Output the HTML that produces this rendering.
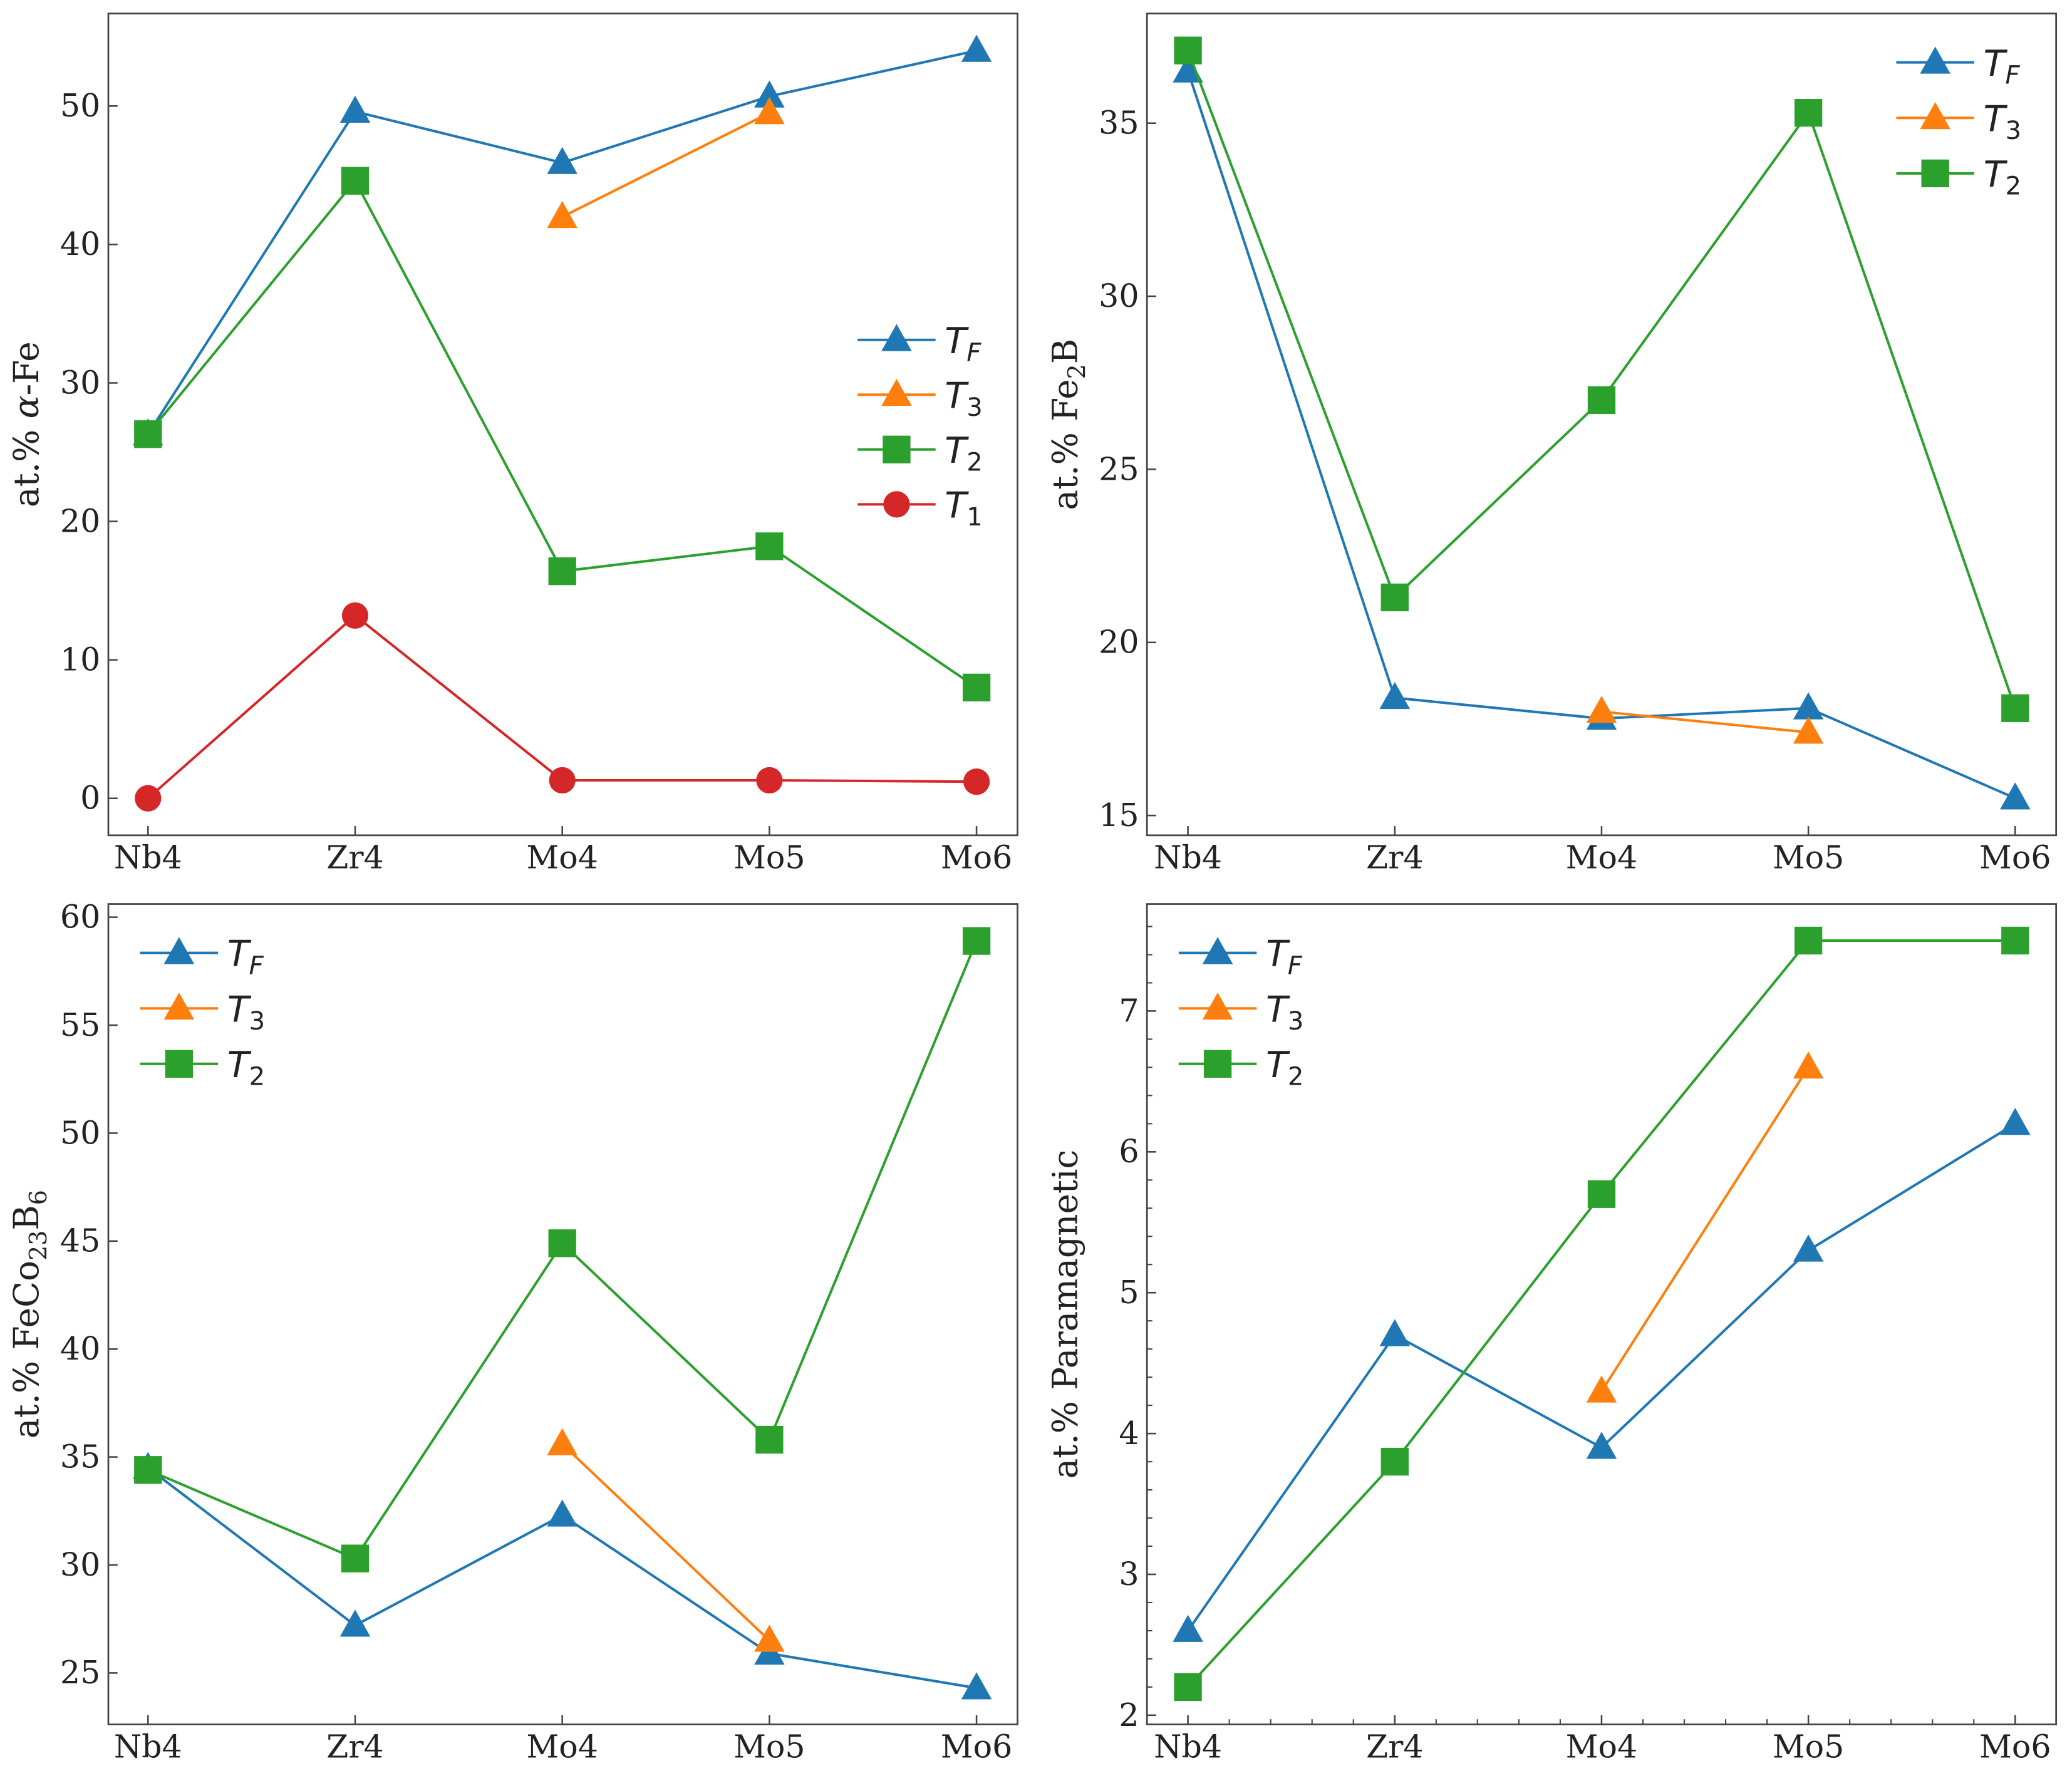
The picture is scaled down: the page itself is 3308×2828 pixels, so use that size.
<!DOCTYPE html>
<html><head><meta charset="utf-8">
<style>
html,body{margin:0;padding:0;background:#fff;}
svg{display:block;}
text{font-family:"DejaVu Serif","Liberation Serif",serif;fill:#222;}
.it{font-family:"DejaVu Sans","Liberation Sans",sans-serif;font-style:italic;}
</style></head>
<body>
<svg id="fig" width="3308" height="2828" viewBox="0 0 1568 1340" xmlns="http://www.w3.org/2000/svg"></svg>
<script>
const categories = ["Nb4","Zr4","Mo4","Mo5","Mo6"];
// Panel A: alpha-Fe
const aTF = [26.3,49.6,45.9,50.7,54.0];
const aT3 = [null,null,42.0,49.5,null];
const aT2 = [26.3,44.6,16.4,18.2,8.0];
const aT1 = [0,13.2,1.3,1.3,1.2];
const aTicks = [0,10,20,30,40,50];
// Panel B: Fe2B
const bTF = [36.5,18.4,17.8,18.1,15.5];
const bT3 = [null,null,18.0,17.4,null];
const bT2 = [37.1,21.3,27.0,35.3,18.1];
const bTicks = [15,20,25,30,35];
// Panel C: FeCo23B6
const cTF = [34.5,27.2,32.3,25.9,24.3];
const cT3 = [null,null,35.6,26.5,null];
const cT2 = [34.4,30.3,44.9,35.8,58.9];
const cTicks = [25,30,35,40,45,50,55,60];
// Panel D: Paramagnetic
const dTF = [2.6,4.7,3.9,5.3,6.2];
const dT3 = [null,null,4.3,6.6,null];
const dT2 = [2.2,3.8,5.7,7.5,7.5];
const dTicks = [2,3,4,5,6,7];

const NS="http://www.w3.org/2000/svg";
const svg=document.getElementById('fig');
const C={TF:"#1f77b4",T3:"#ff7f0e",T2:"#2ca02c",T1:"#d62728"};
function el(tag,attrs,parent){const e=document.createElementNS(NS,tag);for(const k in attrs)e.setAttribute(k,attrs[k]);(parent||svg).appendChild(e);return e;}
function marker(g,shape,x,y,color){
  let m;
  if(shape==='tri'){m=el('polygon',{points:`${x},${y-12} ${x-11.5},${y+8.5} ${x+11.5},${y+8.5}`,fill:color},g);}
  else if(shape==='sq'){m=el('rect',{x:x-10.5,y:y-10.5,width:21,height:21,fill:color},g);}
  else {m=el('circle',{cx:x,cy:y,r:10,fill:color},g);}
  return m;
}
function panel(name,L,R,T,B,x0px,x4px,v0,p0,v1,p1,ticks,series,legend,ylabel,minor){
  const g=el('g',{});
  
  
  const X=i=>x0px+(x4px-x0px)*i/(categories.length-1);
  const Y=v=>p0+(v-v0)*(p1-p0)/(v1-v0);
  const fr=el('rect',{x:L,y:T,width:R-L,height:B-T,fill:'none',stroke:'#444','stroke-width':1.3},g);
  
  
  categories.forEach((c,i)=>{
    el('line',{x1:X(i),x2:X(i),y1:B,y2:B-7,stroke:'#444','stroke-width':1.2},g);
    const t=el('text',{x:X(i),y:B+25,'text-anchor':'middle','font-size':24},g);
    t.textContent=c;
    
    
  });
  if(minor){
    for(let i=0;i<categories.length-1;i++)for(let k=1;k<5;k++){const xx=X(i+k/5);el('line',{x1:xx,x2:xx,y1:B,y2:B-4,stroke:'#444','stroke-width':1},g);}
    const step=ticks[1]-ticks[0];
    for(let v=ticks[0]-step;v<=ticks[ticks.length-1]+step;v+=step/5){const yy=Y(v);if(yy>T&&yy<B)el('line',{x1:L,x2:L+4,y1:yy,y2:yy,stroke:'#444','stroke-width':1},g);}
  }
  ticks.forEach(v=>{
    el('line',{x1:L,x2:L+7,y1:Y(v),y2:Y(v),stroke:'#444','stroke-width':1.2},g);
    const t=el('text',{x:L-6,y:Y(v)+8,'text-anchor':'end','font-size':24},g);
    t.textContent=v;
    
    
  });
  const yl=el('text',{x:0,y:0,'text-anchor':'middle','font-size':26,transform:`translate(${L-53},${(T+B)/2}) rotate(-90)`},g);
  yl.innerHTML=ylabel;
  
  
  series.forEach(s=>{
    const sg=el('g',{},g);
    
    
    const pts=[];s.vals.forEach((v,i)=>{if(v!==null)pts.push([X(i),Y(v)]);});
    el('polyline',{points:pts.map(p=>p.join(',')).join(' '),fill:'none',stroke:C[s.key],'stroke-width':1.9},sg);
    pts.forEach(p=>{const m=marker(sg,s.shape,p[0],p[1],C[s.key]);
      
      });
  });
  const lg=el('g',{},g);
  
  
  series.slice().sort((a,b)=>a.order-b.order).forEach((s,j)=>{
    const y=legend.y+j*legend.dy;
    const e=el('g',{},lg);
    
    
    el('line',{x1:legend.x,x2:legend.x+59,y1:y,y2:y,stroke:C[s.key],'stroke-width':1.9},e);
    marker(e,s.shape,legend.x+29.5,y,C[s.key]);
    const t=el('text',{x:legend.x+66,y:y+10,'font-size':27,class:'it'},e);
    const st=s.sub==='F'?'italic':'normal';
    t.innerHTML='T<tspan font-size="19" dy="6" font-style="'+st+'">'+s.sub+'</tspan>';
  });
}
const S=(key,vals,shape,sub,order)=>({key,vals,shape,sub,order});
panel('alpha-fe-panel',82,770,10,632,112,739,0,604,50,80,aTicks,
 [S('TF',aTF,'tri','F',0),S('T3',aT3,'tri','3',1),S('T2',aT2,'sq','2',2),S('T1',aT1,'circ','1',3)],
 {x:649,y:257,dy:41.5},'at.% <tspan font-style="italic">α</tspan>-Fe',false);
panel('fe2b-panel',868,1556,10,632,899,1525,15,617,35,93,bTicks,
 [S('TF',bTF,'tri','F',0),S('T3',bT3,'tri','3',1),S('T2',bT2,'sq','2',2)],
 {x:1435,y:47,dy:42},'at.% Fe<tspan font-size="18" dy="6">2</tspan><tspan dy="-6">B</tspan>',false);
panel('feco23b6-panel',82,770,684,1305,112,739,25,1266,60,694,cTicks,
 [S('TF',cTF,'tri','F',0),S('T3',cT3,'tri','3',1),S('T2',cT2,'sq','2',2)],
 {x:106,y:721,dy:42},'at.% FeCo<tspan font-size="18" dy="6">23</tspan><tspan dy="-6">B</tspan><tspan font-size="18" dy="6">6</tspan>',false);
panel('paramagnetic-panel',868,1556,684,1305,899,1525,2,1298,7,765,dTicks,
 [S('TF',dTF,'tri','F',0),S('T3',dT3,'tri','3',1),S('T2',dT2,'sq','2',2)],
 {x:892,y:721,dy:42},'at.% Paramagnetic',true);
</script>
</body></html>
